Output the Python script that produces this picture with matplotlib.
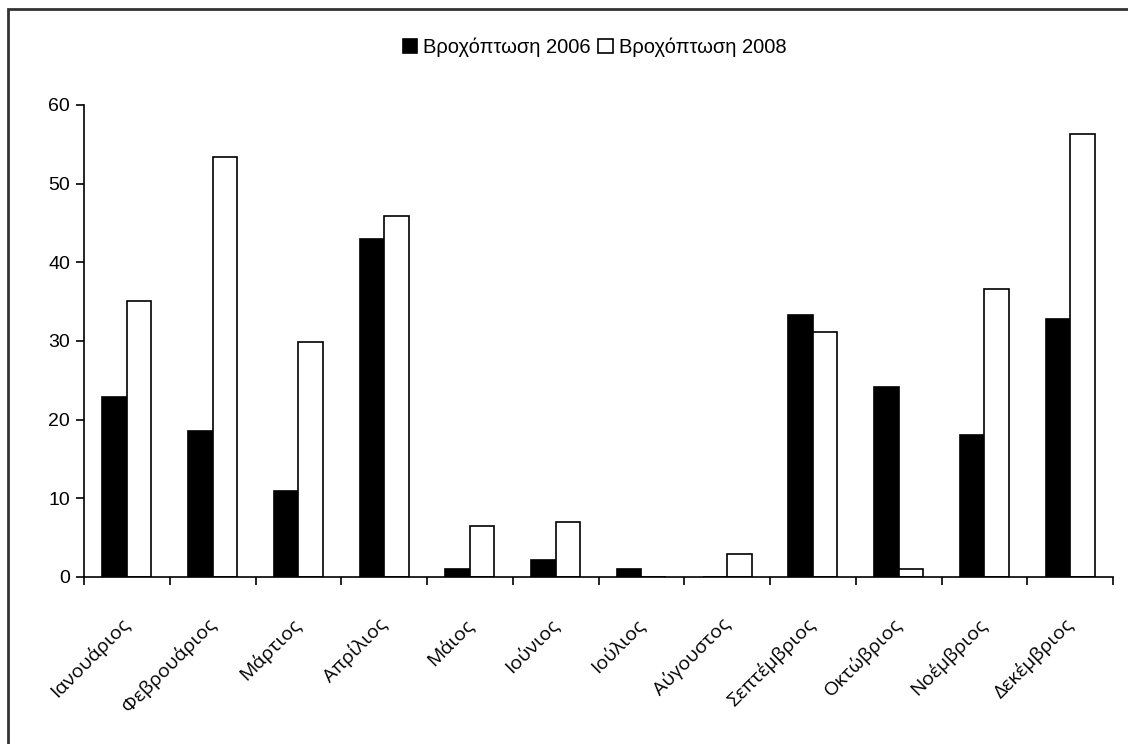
import numpy as np
import matplotlib.pyplot as plt
from matplotlib.patches import Rectangle
from matplotlib import font_manager

months = ['Ιανουάριος', 'Φεβρουάριος', 'Μάρτιος', 'Απρίλιος', 'Μάιος', 'Ιούνιος',
          'Ιούλιος', 'Αύγουστος', 'Σεπτέμβριος', 'Οκτώβριος', 'Νοέμβριος', 'Δεκέμβριος']
rain_2006 = [22.9, 18.6, 10.9, 42.9, 1.0, 2.2, 1.0, 0.0, 33.3, 24.2, 18.1, 32.8]
rain_2008 = [35.1, 53.4, 29.9, 45.9, 6.5, 7.0, 0.0, 2.9, 31.1, 1.0, 36.6, 56.3]
yticks = [0, 10, 20, 30, 40, 50, 60]

installed = {f.name for f in font_manager.fontManager.ttflist}
num_font = 'Liberation Sans Narrow' if 'Liberation Sans Narrow' in installed else 'Liberation Sans'

fig = plt.figure(figsize=(11.28, 7.44), dpi=100)
ax = fig.add_axes([0.0745, 0.2245, 0.9122, 0.6344])

x = np.arange(len(months))
w = 0.286
ax.bar(x - w / 2, rain_2006, w, color='black', edgecolor='black', linewidth=1.2,
       label='Βροχόπτωση 2006')
ax.bar(x + w / 2, rain_2008, w, color='white', edgecolor='black', linewidth=1.2,
       label='Βροχόπτωση 2008')

ax.set_xlim(-0.5, len(months) - 0.5)
ax.set_ylim(0, 60)
ax.set_yticks(yticks)
ax.set_yticklabels([str(v) for v in yticks], fontfamily=num_font, fontsize=14)

# category ticks sit between the groups
ax.set_xticks(np.arange(len(months) + 1) - 0.5)
ax.set_xticklabels([])
ax.set_xticks(x, minor=True)
ax.set_xticklabels(months, minor=True, rotation=45, ha='right', va='center',
                   rotation_mode='anchor', fontfamily='Open Sans', fontsize=14)
ax.tick_params(axis='x', which='minor', length=0, pad=32)
ax.tick_params(axis='x', which='major', direction='out', length=6, width=1.2)
ax.tick_params(axis='y', direction='out', length=6, width=1.2, pad=4)

for side in ['top', 'right']:
    ax.spines[side].set_visible(False)
for side in ['left', 'bottom']:
    ax.spines[side].set_linewidth(1.2)

fig.legend(loc='center', bbox_to_anchor=(0.527, 0.937), ncol=2, frameon=False,
           handlelength=0.7, handleheight=0.7, handletextpad=0.3, columnspacing=0.4,
           prop={'family': num_font, 'size': 14.5})

# outer chart border
fig.patches.append(Rectangle((8 / 1128, -0.1), 1.2, 1.1 - 9 / 744,
                             transform=fig.transFigure, fill=False,
                             edgecolor='#333333', linewidth=2))

fig.savefig('out.png', dpi=100)
